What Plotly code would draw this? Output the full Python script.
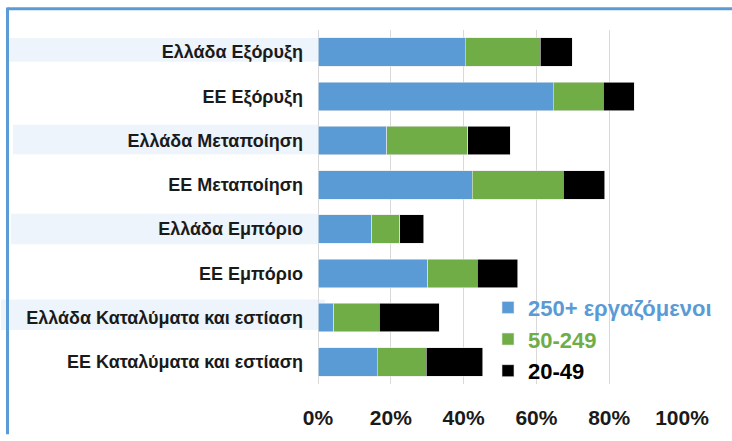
import plotly.graph_objects as go

categories = [
    "Ελλάδα Εξόρυξη",
    "ΕΕ Εξόρυξη",
    "Ελλάδα Μεταποίηση",
    "ΕΕ Μεταποίηση",
    "Ελλάδα Εμπόριο",
    "ΕΕ Εμπόριο",
    "Ελλάδα Καταλύματα και εστίαση",
    "ΕΕ Καταλύματα και εστίαση",
]
series_names = ["250+ εργαζόμενοι", "50-249", "20-49"]
large_250 = [40.5, 64.6, 18.9, 42.4, 14.7, 30.1, 4.3, 16.3]
medium_50_249 = [20.6, 13.8, 22.2, 25.0, 7.7, 13.6, 12.5, 13.4]
small_20_49 = [8.7, 8.5, 11.7, 11.4, 6.7, 11.2, 16.5, 15.6]
x_tick_values = [0, 20, 40, 60, 80, 100]
x_tick_labels = ["0%", "20%", "40%", "60%", "80%", "100%"]

colors = ["#5B9BD5", "#70AD47", "#000000"]
series_values = [large_250, medium_50_249, small_20_49]

W, H = 732, 441
L, R, T, B = 318, 50, 30, 51
pw, ph = W - L - R, H - T - B

def px_x(px):
    return (px - L) / pw

def px_y(py):
    return (H - B - py) / ph

fig = go.Figure()
for i, (name, vals, col) in enumerate(zip(series_names, series_values, colors)):
    fig.add_trace(go.Bar(
        y=categories, x=vals, orientation="h",
        name=f'<span style="color:{col}">{name}</span>',
        legendgroup=f"g{i}",
        marker=dict(color=col, line=dict(color="#e8e8e8", width=0.6)),
        hoverinfo="skip",
    ))

shapes = []
# light-blue bands behind Greek rows (label area)
bands = [(0, -0.32, 0.22, 9, 318), (2, -0.36, 0.31, 13, 318),
         (4, -0.35, 0.34, 11, 318), (6, -0.41, 0.28, 1, 325)]
for idx, d0, d1, xa, xb in bands:
    shapes.append(dict(type="rect", xref="paper", yref="y",
                       x0=px_x(xa), x1=px_x(xb), y0=idx + d0, y1=idx + d1,
                       fillcolor="#EDF4FB", line=dict(width=0), layer="below"))
# outer blue frame (top and left edges), kept inside the page
shapes.append(dict(type="line", xref="paper", yref="paper",
                   x0=px_x(7.5), x1=px_x(W), y0=px_y(8.5), y1=px_y(8.5),
                   line=dict(color="#5B9BD5", width=3), layer="above"))
shapes.append(dict(type="line", xref="paper", yref="paper",
                   x0=px_x(7.5), x1=px_x(7.5), y0=px_y(7), y1=px_y(H),
                   line=dict(color="#5B9BD5", width=3), layer="above"))

fig.update_layout(
    width=W, height=H,
    margin=dict(l=L, r=R, t=T, b=B, pad=0),
    barmode="stack", bargap=0.36,
    plot_bgcolor="white", paper_bgcolor="white",
    font=dict(family="Liberation Sans, Arial, sans-serif", color="#1a1a1a"),
    shapes=shapes,
    hovermode=False,
    legend=dict(
        x=px_x(488), y=px_y(291), xanchor="left", yanchor="top",
        traceorder="normal", bgcolor="rgba(0,0,0,0)",
        font=dict(size=22, weight="bold", family="Liberation Sans, Arial, sans-serif"),
        tracegroupgap=2, itemwidth=30,
    ),
    xaxis=dict(
        range=[0, 100], tickmode="array",
        tickvals=x_tick_values, ticktext=x_tick_labels,
        showgrid=True, gridcolor="#D9D9D9", gridwidth=1,
        zeroline=True, zerolinecolor="#D9D9D9", zerolinewidth=1,
        showline=False, ticks="", fixedrange=True,
        tickfont=dict(size=21, weight="bold", color="#1a1a1a"),
        ticklabelstandoff=19,
    ),
    yaxis=dict(
        categoryorder="array", categoryarray=categories, autorange="reversed",
        showgrid=False, showline=False, ticks="", fixedrange=True,
        tickfont=dict(size=18, weight="bold", color="#1a1a1a"),
        ticklabelstandoff=14,
    ),
)

fig.write_html("out.html", config={"displayModeBar": False},
               post_script="document.body.style.margin='0px';document.body.style.overflow='hidden';")
